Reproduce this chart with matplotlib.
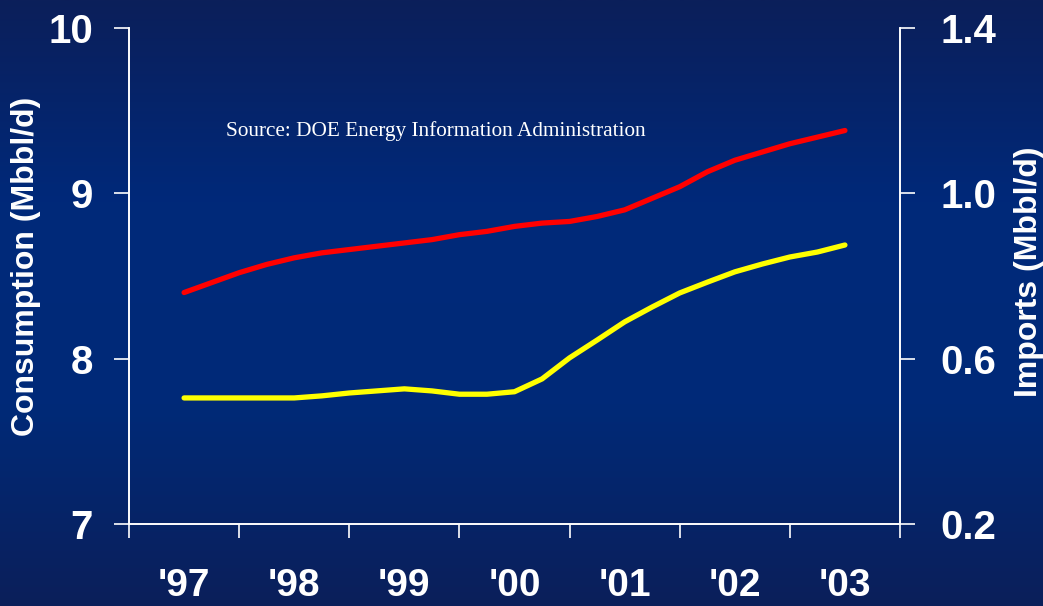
import matplotlib
matplotlib.use("Agg")
import matplotlib.pyplot as plt
import numpy as np
import pandas as pd
from matplotlib.colors import LinearSegmentedColormap

# quarterly readings, mid-1997 .. mid-2003
quarters = pd.period_range("1997Q3", "2003Q3", freq="Q")
consumption = [8.40, 8.46, 8.52, 8.57, 8.61, 8.64, 8.66, 8.68, 8.70, 8.72,
               8.75, 8.77, 8.80, 8.82, 8.83, 8.86, 8.90, 8.97, 9.04, 9.13,
               9.20, 9.25, 9.30, 9.34, 9.38]
imports = [0.505, 0.505, 0.505, 0.505, 0.505, 0.510, 0.517, 0.522, 0.527, 0.522,
           0.514, 0.514, 0.520, 0.551, 0.602, 0.645, 0.689, 0.725, 0.759, 0.785,
           0.810, 0.829, 0.846, 0.858, 0.875]
years = [1997, 1998, 1999, 2000, 2001, 2002, 2003]
year_labels = ["'97", "'98", "'99", "'00", "'01", "'02", "'03"]

left_ticks = [7, 8, 9, 10]
right_ticks = [0.2, 0.6, 1.0, 1.4]

x = quarters.year + (quarters.quarter - 1) / 4.0

plt.rcParams["font.family"] = ["Liberation Sans", "DejaVu Sans"]
plt.rcParams["font.weight"] = "bold"

fig = plt.figure(figsize=(10.43, 6.06), dpi=100)

# gradient background
bg = fig.add_axes([0, 0, 1, 1], zorder=-10)
cmap = LinearSegmentedColormap.from_list("bg", ["#0b1f5a", "#00297a", "#002a78", "#0b1f5a"])
grad = np.linspace(0, 1, 256).reshape(-1, 1)
bg.imshow(grad, aspect="auto", cmap=cmap, extent=[0, 1, 0, 1], origin="upper")
bg.axis("off")

ax = fig.add_axes([0.1237, 0.1353, 0.7392, 0.8185])
ax.patch.set_alpha(0)
ax2 = ax.twinx()
ax2.patch.set_alpha(0)

ax.plot(x, consumption, color="#ff0000", lw=3.8, solid_capstyle="round", zorder=5)
ax2.plot(x, imports, color="#ffff00", lw=3.8, solid_capstyle="round", zorder=5)

ax.set_xlim(1997, 2004)
ax.set_ylim(7, 10)
ax2.set_ylim(0.2, 1.4)

ax.set_xticks(years + [2004])
ax.set_xticklabels([])
ax.set_xticks([y + 0.5 for y in years], minor=True)
ax.set_xticklabels(year_labels, minor=True)
ax.tick_params(axis="x", which="major", length=10, width=1.2, color="white", direction="out")
ax.tick_params(axis="x", which="minor", length=0, pad=32, labelsize=28, labelcolor="white")

ax.set_yticks(left_ticks)
ax.set_yticklabels([str(t) for t in left_ticks])
ax.tick_params(axis="y", length=11, width=1.2, color="white", pad=15, labelsize=29, labelcolor="white")

ax2.set_yticks(right_ticks)
ax2.set_yticklabels([f"{t:.1f}" for t in right_ticks])
ax2.tick_params(axis="y", length=11, width=1.2, color="white", pad=18, labelsize=29, labelcolor="white")

for a in (ax, ax2):
    a.spines["top"].set_visible(False)
    for s in ("left", "right", "bottom"):
        a.spines[s].set_color("white")
        a.spines[s].set_linewidth(1.2)

ax.set_ylabel("Consumption (Mbbl/d)", color="white", fontsize=23, fontweight="bold")
ax.yaxis.set_label_coords(-0.114, 0.52)
ax2.set_ylabel("Imports (Mbbl/d)", color="white", fontsize=23, fontweight="bold")
ax2.yaxis.set_label_coords(1.148, 0.508)

ax.text(0.398, 0.792, "Source: DOE Energy Information Administration",
        transform=ax.transAxes, ha="center", va="center", color="white",
        fontsize=15.3, fontweight="normal", family=["Liberation Serif", "DejaVu Serif"])

fig.savefig("out.png", dpi=100)
